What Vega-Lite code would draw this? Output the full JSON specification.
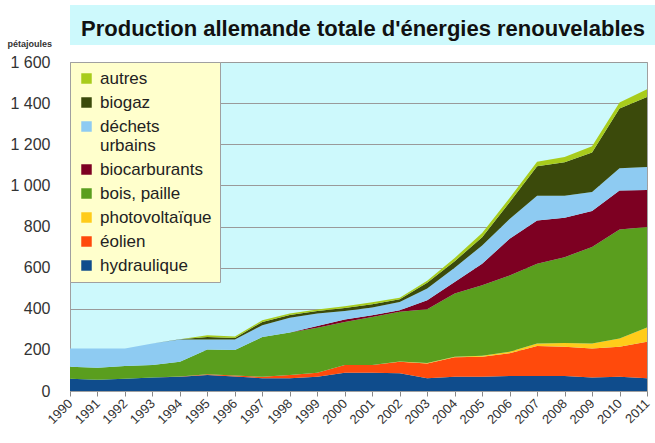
{
  "$schema": "https://vega.github.io/schema/vega-lite/v6.json",
  "padding": {"left": 6, "top": 5, "right": 0, "bottom": 0},
  "background": "white",
  "spacing": 17,
  "bounds": "flush",
  "resolve": {"legend": {"color": "independent"}, "scale": {"color": "independent"}},
  "vconcat": [
    {
      "width": 586,
      "height": 40,
      "view": {"fill": "#cdf9fc", "stroke": null},
      "data": {"values": [{"titre": "Production allemande totale d'énergies renouvelables"}]},
      "mark": {"type": "text", "font": "Liberation Sans", "fontSize": 22, "fontWeight": "bold", "color": "#111111", "baseline": "middle", "dy": 4},
      "encoding": {"text": {"field": "titre", "type": "nominal"}}
    },
    {
      "width": 577,
      "height": 329,
      "view": {"fill": "#cdf9fc", "stroke": "#a0a0a0"},
      "data": {"values": [
        {"annee":1990,"source":"hydraulique","pj":60},{"annee":1990,"source":"éolien","pj":0},{"annee":1990,"source":"photovoltaïque","pj":0},{"annee":1990,"source":"bois, paille","pj":58},{"annee":1990,"source":"biocarburants","pj":0},{"annee":1990,"source":"déchets urbains","pj":89},{"annee":1990,"source":"biogaz","pj":0},{"annee":1990,"source":"autres","pj":0},
        {"annee":1991,"source":"hydraulique","pj":55},{"annee":1991,"source":"éolien","pj":0},{"annee":1991,"source":"photovoltaïque","pj":0},{"annee":1991,"source":"bois, paille","pj":58},{"annee":1991,"source":"biocarburants","pj":0},{"annee":1991,"source":"déchets urbains","pj":94},{"annee":1991,"source":"biogaz","pj":0},{"annee":1991,"source":"autres","pj":0},
        {"annee":1992,"source":"hydraulique","pj":60},{"annee":1992,"source":"éolien","pj":0},{"annee":1992,"source":"photovoltaïque","pj":0},{"annee":1992,"source":"bois, paille","pj":61},{"annee":1992,"source":"biocarburants","pj":0},{"annee":1992,"source":"déchets urbains","pj":86},{"annee":1992,"source":"biogaz","pj":0},{"annee":1992,"source":"autres","pj":0},
        {"annee":1993,"source":"hydraulique","pj":66},{"annee":1993,"source":"éolien","pj":0},{"annee":1993,"source":"photovoltaïque","pj":0},{"annee":1993,"source":"bois, paille","pj":60},{"annee":1993,"source":"biocarburants","pj":0},{"annee":1993,"source":"déchets urbains","pj":105},{"annee":1993,"source":"biogaz","pj":0},{"annee":1993,"source":"autres","pj":0},
        {"annee":1994,"source":"hydraulique","pj":69},{"annee":1994,"source":"éolien","pj":1},{"annee":1994,"source":"photovoltaïque","pj":0},{"annee":1994,"source":"bois, paille","pj":72},{"annee":1994,"source":"biocarburants","pj":0},{"annee":1994,"source":"déchets urbains","pj":108},{"annee":1994,"source":"biogaz","pj":2},{"annee":1994,"source":"autres","pj":0},
        {"annee":1995,"source":"hydraulique","pj":78},{"annee":1995,"source":"éolien","pj":3},{"annee":1995,"source":"photovoltaïque","pj":0},{"annee":1995,"source":"bois, paille","pj":121},{"annee":1995,"source":"biocarburants","pj":0},{"annee":1995,"source":"déchets urbains","pj":49},{"annee":1995,"source":"biogaz","pj":12},{"annee":1995,"source":"autres","pj":8},
        {"annee":1996,"source":"hydraulique","pj":70},{"annee":1996,"source":"éolien","pj":5},{"annee":1996,"source":"photovoltaïque","pj":0},{"annee":1996,"source":"bois, paille","pj":124},{"annee":1996,"source":"biocarburants","pj":0},{"annee":1996,"source":"déchets urbains","pj":51},{"annee":1996,"source":"biogaz","pj":8},{"annee":1996,"source":"autres","pj":7},
        {"annee":1997,"source":"hydraulique","pj":62},{"annee":1997,"source":"éolien","pj":7},{"annee":1997,"source":"photovoltaïque","pj":0},{"annee":1997,"source":"bois, paille","pj":194},{"annee":1997,"source":"biocarburants","pj":0},{"annee":1997,"source":"déchets urbains","pj":57},{"annee":1997,"source":"biogaz","pj":16},{"annee":1997,"source":"autres","pj":8},
        {"annee":1998,"source":"hydraulique","pj":62},{"annee":1998,"source":"éolien","pj":16},{"annee":1998,"source":"photovoltaïque","pj":0},{"annee":1998,"source":"bois, paille","pj":206},{"annee":1998,"source":"biocarburants","pj":0},{"annee":1998,"source":"déchets urbains","pj":72},{"annee":1998,"source":"biogaz","pj":14},{"annee":1998,"source":"autres","pj":7},
        {"annee":1999,"source":"hydraulique","pj":69},{"annee":1999,"source":"éolien","pj":20},{"annee":1999,"source":"photovoltaïque","pj":0},{"annee":1999,"source":"bois, paille","pj":219},{"annee":1999,"source":"biocarburants","pj":8},{"annee":1999,"source":"déchets urbains","pj":61},{"annee":1999,"source":"biogaz","pj":12},{"annee":1999,"source":"autres","pj":7},
        {"annee":2000,"source":"hydraulique","pj":89},{"annee":2000,"source":"éolien","pj":37},{"annee":2000,"source":"photovoltaïque","pj":1},{"annee":2000,"source":"bois, paille","pj":209},{"annee":2000,"source":"biocarburants","pj":12},{"annee":2000,"source":"déchets urbains","pj":41},{"annee":2000,"source":"biogaz","pj":15},{"annee":2000,"source":"autres","pj":8},
        {"annee":2001,"source":"hydraulique","pj":89},{"annee":2001,"source":"éolien","pj":37},{"annee":2001,"source":"photovoltaïque","pj":1},{"annee":2001,"source":"bois, paille","pj":233},{"annee":2001,"source":"biocarburants","pj":8},{"annee":2001,"source":"déchets urbains","pj":38},{"annee":2001,"source":"biogaz","pj":16},{"annee":2001,"source":"autres","pj":10},
        {"annee":2002,"source":"hydraulique","pj":86},{"annee":2002,"source":"éolien","pj":56},{"annee":2002,"source":"photovoltaïque","pj":1},{"annee":2002,"source":"bois, paille","pj":242},{"annee":2002,"source":"biocarburants","pj":8},{"annee":2002,"source":"déchets urbains","pj":40},{"annee":2002,"source":"biogaz","pj":13},{"annee":2002,"source":"autres","pj":8},
        {"annee":2003,"source":"hydraulique","pj":62},{"annee":2003,"source":"éolien","pj":72},{"annee":2003,"source":"photovoltaïque","pj":2},{"annee":2003,"source":"bois, paille","pj":261},{"annee":2003,"source":"biocarburants","pj":44},{"annee":2003,"source":"déchets urbains","pj":57},{"annee":2003,"source":"biogaz","pj":28},{"annee":2003,"source":"autres","pj":10},
        {"annee":2004,"source":"hydraulique","pj":69},{"annee":2004,"source":"éolien","pj":95},{"annee":2004,"source":"photovoltaïque","pj":3},{"annee":2004,"source":"bois, paille","pj":307},{"annee":2004,"source":"biocarburants","pj":56},{"annee":2004,"source":"déchets urbains","pj":69},{"annee":2004,"source":"biogaz","pj":32},{"annee":2004,"source":"autres","pj":16},
        {"annee":2005,"source":"hydraulique","pj":69},{"annee":2005,"source":"éolien","pj":97},{"annee":2005,"source":"photovoltaïque","pj":5},{"annee":2005,"source":"bois, paille","pj":343},{"annee":2005,"source":"biocarburants","pj":105},{"annee":2005,"source":"déchets urbains","pj":89},{"annee":2005,"source":"biogaz","pj":40},{"annee":2005,"source":"autres","pj":20},
        {"annee":2006,"source":"hydraulique","pj":73},{"annee":2006,"source":"éolien","pj":110},{"annee":2006,"source":"photovoltaïque","pj":8},{"annee":2006,"source":"bois, paille","pj":371},{"annee":2006,"source":"biocarburants","pj":178},{"annee":2006,"source":"déchets urbains","pj":97},{"annee":2006,"source":"biogaz","pj":81},{"annee":2006,"source":"autres","pj":20},
        {"annee":2007,"source":"hydraulique","pj":73},{"annee":2007,"source":"éolien","pj":146},{"annee":2007,"source":"photovoltaïque","pj":12},{"annee":2007,"source":"bois, paille","pj":388},{"annee":2007,"source":"biocarburants","pj":210},{"annee":2007,"source":"déchets urbains","pj":121},{"annee":2007,"source":"biogaz","pj":143},{"annee":2007,"source":"autres","pj":22},
        {"annee":2008,"source":"hydraulique","pj":73},{"annee":2008,"source":"éolien","pj":142},{"annee":2008,"source":"photovoltaïque","pj":19},{"annee":2008,"source":"bois, paille","pj":417},{"annee":2008,"source":"biocarburants","pj":191},{"annee":2008,"source":"déchets urbains","pj":108},{"annee":2008,"source":"biogaz","pj":162},{"annee":2008,"source":"autres","pj":26},
        {"annee":2009,"source":"hydraulique","pj":66},{"annee":2009,"source":"éolien","pj":141},{"annee":2009,"source":"photovoltaïque","pj":24},{"annee":2009,"source":"bois, paille","pj":469},{"annee":2009,"source":"biocarburants","pj":175},{"annee":2009,"source":"déchets urbains","pj":93},{"annee":2009,"source":"biogaz","pj":192},{"annee":2009,"source":"autres","pj":30},
        {"annee":2010,"source":"hydraulique","pj":69},{"annee":2010,"source":"éolien","pj":146},{"annee":2010,"source":"photovoltaïque","pj":40},{"annee":2010,"source":"bois, paille","pj":530},{"annee":2010,"source":"biocarburants","pj":190},{"annee":2010,"source":"déchets urbains","pj":108},{"annee":2010,"source":"biogaz","pj":291},{"annee":2010,"source":"autres","pj":29},
        {"annee":2011,"source":"hydraulique","pj":62},{"annee":2011,"source":"éolien","pj":177},{"annee":2011,"source":"photovoltaïque","pj":70},{"annee":2011,"source":"bois, paille","pj":488},{"annee":2011,"source":"biocarburants","pj":180},{"annee":2011,"source":"déchets urbains","pj":112},{"annee":2011,"source":"biogaz","pj":341},{"annee":2011,"source":"autres","pj":38}
      ]},
      "transform": [
        {"calculate": "indexof(['hydraulique','éolien','photovoltaïque','bois, paille','biocarburants','déchets urbains','biogaz','autres'], datum.source)", "as": "rang"}
      ],
      "mark": {"type": "area", "interpolate": "linear"},
      "encoding": {
        "x": {
          "field": "annee", "type": "quantitative",
          "scale": {"domain": [1990, 2011], "nice": false, "zero": false},
          "axis": {
            "title": null,
            "values": [1990,1991,1992,1993,1994,1995,1996,1997,1998,1999,2000,2001,2002,2003,2004,2005,2006,2007,2008,2009,2010,2011],
            "format": "d", "labelAngle": -45, "labelFontSize": 13, "labelFont": "Liberation Sans", "labelColor": "#333333",
            "labelAlign": "right", "labelBaseline": "middle",
            "labelOverlap": false, "labelFlush": false, "grid": false, "labelBound": false,
            "tickColor": "#888888", "tickSize": 5, "domainColor": "#a0a0a0", "labelPadding": 5, "labelDx": -3
          }
        },
        "y": {
          "field": "pj", "type": "quantitative", "stack": "zero",
          "scale": {"domain": [0, 1600], "nice": false},
          "axis": {
            "values": [0,200,400,600,800,1000,1200,1400,1600],
            "labelExpr": "replace(format(datum.value, ','), ',', ' ')",
            "labelFontSize": 16, "labelFont": "Liberation Sans", "labelColor": "#333333",
            "ticks": false, "domain": false, "labelPadding": 20,
            "gridColor": "#9a9a9a", "gridWidth": 1,
            "title": "pétajoules", "titleAngle": 0, "titleAlign": "left", "titleBaseline": "middle",
            "titleX": -63, "titleY": -19, "titleFontSize": 9, "titleFontWeight": "bold", "titleFont": "Liberation Sans", "titleColor": "#333333"
          }
        },
        "color": {
          "field": "source", "type": "nominal",
          "scale": {
            "domain": ["autres","biogaz","déchets urbains","biocarburants","bois, paille","photovoltaïque","éolien","hydraulique"],
            "range": ["#a8cc1c","#3b4a0b","#8ecbf2","#7d0022","#5a9e1e","#ffcc1a","#ff4a0c","#0f4c8c"]
          },
          "legend": {
            "title": null, "orient": "top-left", "offset": 0, "padding": 8,
            "fillColor": "#ffffcc", "strokeColor": "#a0a0a0",
            "symbolType": "square", "symbolSize": 110, "symbolStrokeWidth": 0, "symbolOpacity": 1,
            "labelFontSize": 17, "labelFont": "Liberation Sans", "labelColor": "#222222", "labelLimit": 200,
            "rowPadding": 6, "labelOffset": 5,
            "labelExpr": "datum.label == 'déchets urbains' ? ['déchets', 'urbains'] : datum.label"
          }
        },
        "order": {"field": "rang", "type": "quantitative"}
      }
    }
  ]
}
